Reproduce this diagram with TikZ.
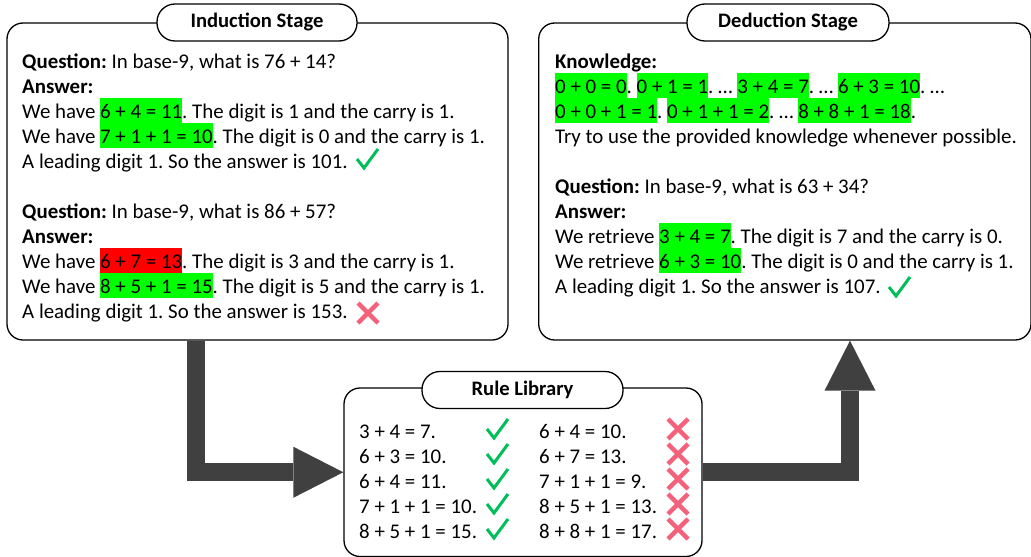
\documentclass[tikz,border=0pt]{standalone}
\usepackage{fontspec}
\setmainfont{Carlito}
\usetikzlibrary{arrows.meta}
\pgfdeclarelayer{bg}
\pgfsetlayers{bg,main}
\definecolor{hlgreen}{RGB}{0,255,0}
\definecolor{hlred}{RGB}{255,0,0}
\definecolor{chkgreen}{RGB}{0,190,90}
\definecolor{xpink}{RGB}{245,96,122}
\definecolor{arrowgray}{RGB}{64,64,64}
\newcommand\ls{\rule[-4.5pt]{0pt}{25pt}}
\newcommand\hlg[1]{{\setlength\fboxsep{0pt}\colorbox{hlgreen}{\ls#1}}}
\newcommand\hlr[1]{{\setlength\fboxsep{0pt}\colorbox{hlred}{\ls#1}}}
\frenchspacing
\begin{document}
\begin{tikzpicture}[x=1pt,y=-1pt,
  panel/.style={draw, line width=1.3pt, fill=white, rounded corners=16pt, inner sep=0pt},
  pill/.style={draw, line width=1.3pt, fill=white, rounded corners=18pt, minimum height=37pt, inner sep=0pt, font=\fontsize{20.6}{24}\selectfont\bfseries},
  body/.style={inner sep=0pt, anchor=north west, align=left, font=\fontsize{20.9}{25}\selectfont\frenchspacing},
  bigarrow/.style={line width=18pt, draw=arrowgray, line join=miter, -{Triangle[length=50pt,width=51pt,line width=0pt]}},
  chk/.pic={\draw[chkgreen, line width=3pt] (0,11) -- (7,20) -- (21,1);},
  crs/.pic={\draw[xpink, line width=4.5pt] (1,1) -- (21,21) (21,1) -- (1,21);}
]
\useasboundingbox (0,0) rectangle (1031,557);

% panels
\node[panel, minimum width=501pt, minimum height=317pt] (induct) at (257.5,181.5) {};
\node[panel, minimum width=492.3pt, minimum height=317pt] (deduct) at (784.85,181.5) {};
\node[panel, minimum width=358pt, minimum height=168.5pt] (rule) at (523,472.25) {};

% titles
\node[pill, minimum width=200pt] (t1) at (257,22.5) {Induction Stage};
\node[pill, minimum width=202pt] (t2) at (788,22.5) {Deduction Stage};
\node[pill, minimum width=201pt] (t3) at (522.5,390) {Rule Library};

% arrows
\coordinate (lb) at (196,473);
\coordinate (rb) at (850,473);
\begin{pgfonlayer}{bg}
\draw[bigarrow] (induct.south -| lb) |- (rule.west);
\draw[bigarrow] (rule.east) -| (deduct.south -| rb);
\end{pgfonlayer}

% induction text
\node[body] (itext) at (22,47.5) {\ls\textbf{Question:} In base-9, what is 76 + 14?\\
\textbf{Answer:}\\
We have \hlg{6 + 4 = 11}. The digit is 1 and the carry is 1.\\
We have \hlg{7 + 1 + 1 = 10}. The digit is 0 and the carry is 1.\\
A leading digit 1. So the answer is 101.\\
\ls\\
\textbf{Question:} In base-9, what is 86 + 57?\\
\textbf{Answer:}\\
We have \hlr{6 + 7 = 13}. The digit is 3 and the carry is 1.\\
We have \hlg{8 + 5 + 1 = 15}. The digit is 5 and the carry is 1.\\
A leading digit 1. So the answer is 153.};

% deduction text
\node[body] (dtext) at (555,47.5) {\ls\textbf{Knowledge:}\\
\hlg{0 + 0 = 0}. \hlg{0 + 1 = 1}. … \hlg{3 + 4 = 7}. … \hlg{6 + 3 = 10}. …\\
\hlg{0 + 0 + 1 = 1}. \hlg{0 + 1 + 1 = 2}. … \hlg{8 + 8 + 1 = 18}.\\
Try to use the provided knowledge whenever possible.\\
\ls\\
\textbf{Question:} In base-9, what is 63 + 34?\\
\textbf{Answer:}\\
We retrieve \hlg{3 + 4 = 7}. The digit is 7 and the carry is 0.\\
We retrieve \hlg{6 + 3 = 10}. The digit is 0 and the carry is 1.\\
A leading digit 1. So the answer is 107.};

% rule library text
\node[body] (rcol1) at (359,417.5) {\ls 3 + 4 = 7.\\6 + 3 = 10.\\6 + 4 = 11.\\7 + 1 + 1 = 10.\\8 + 5 + 1 = 15.};
\node[body] (rcol2) at (539,417.5) {\ls 6 + 4 = 10.\\6 + 7 = 13.\\7 + 1 + 1 = 9.\\8 + 5 + 1 = 13.\\8 + 8 + 1 = 17.};

% marks
\pic at (357,148) {chk};
\pic at (357,302) {crs};
\pic at (889,276) {chk};
\foreach \k in {0,...,4} {
  \pic at (487,418+25*\k) {chk};
  \pic at (667,418+25*\k) {crs};
}
\end{tikzpicture}
\end{document}
